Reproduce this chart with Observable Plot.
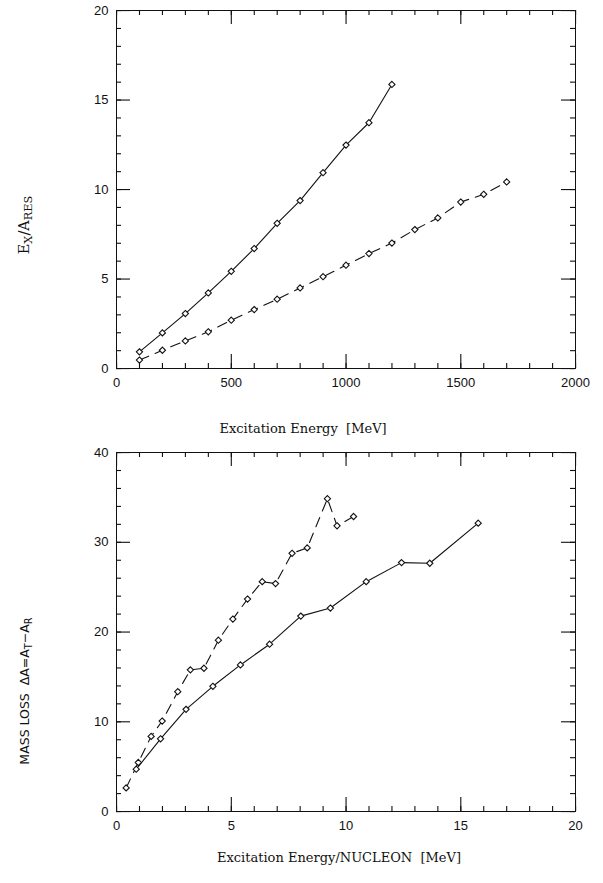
<!DOCTYPE html>
<html><head><meta charset="utf-8">
<script src="https://cdn.jsdelivr.net/npm/d3@7"></script>
<script src="https://cdn.jsdelivr.net/npm/@observablehq/plot@0.6"></script>
<style>
body{margin:0;background:#fff;}
#chart{width:603px;height:883px;}
svg{display:block;}
</style></head><body><div id="chart"></div>
<script>
// ---- Top panel data: E_X/A_RES vs Excitation Energy [MeV]
const topSolidEnergy = [100,200,300,400,500,600,700,800,900,1000,1100,1200];
const topSolidRatio  = [0.93,1.99,3.07,4.22,5.43,6.70,8.11,9.38,10.94,12.48,13.73,15.87];
const topDashedEnergy = [100,200,300,400,500,600,700,800,900,1000,1100,1200,1300,1400,1500,1600,1700];
const topDashedRatio  = [0.47,1.02,1.54,2.05,2.70,3.29,3.87,4.50,5.13,5.77,6.42,7.01,7.76,8.41,9.30,9.73,10.42];

// ---- Bottom panel data: mass loss vs excitation energy per nucleon [MeV]
const botSolidEn = [0.86,1.92,3.03,4.20,5.40,6.67,8.03,9.32,10.88,12.42,13.65,15.76];
const botSolidDA = [4.71,8.10,11.38,13.95,16.33,18.64,21.77,22.67,25.61,27.73,27.66,32.13];
const botDashedEn = [0.42,0.95,1.51,1.99,2.67,3.22,3.81,4.44,5.07,5.71,6.35,6.93,7.65,8.31,9.19,9.61,10.33];
const botDashedDA = [2.63,5.46,8.37,10.08,13.35,15.78,15.96,19.09,21.44,23.67,25.61,25.39,28.77,29.37,34.85,31.83,32.87];

// ---- Ticks / labels
const topXTicks = [0,500,1000,1500,2000];
const topYTicks = [0,5,10,15,20];
const topXMinor = d3.range(0, 2001, 100);
const topYMinor = d3.range(0, 21, 1);
const botXTicks = [0,5,10,15,20];
const botYTicks = [0,10,20,30,40];
const botXMinor = d3.range(0, 21, 1);
const botYMinor = d3.range(0, 41, 2);
const topXLabel = "Excitation Energy  [MeV]";
const botXLabel = "Excitation Energy/NUCLEON  [MeV]";

const INK = "#111";
const W = 603, ML = 116, MR = 28;

function panel({xd, yd, xMaj, yMaj, solid, dashed, height, marginTop, marginBottom, xLabel, labelDx, labelDy, spacing}) {
  return Plot.plot({
    width: W, height, marginLeft: ML, marginRight: MR, marginTop, marginBottom,
    style: {fontFamily: "Liberation Sans, Arial, sans-serif", background: "#fff", color: INK},
    x: {domain: xd}, y: {domain: yd},
    marks: [
      Plot.frame({stroke: INK}),
      Plot.axisX(xMaj, {anchor: "bottom", tickSize: 0, tickPadding: 9, fontSize: 13, tickFormat: d => String(d), label: null, fill: INK}),
      Plot.axisY(yMaj, {anchor: "left", tickSize: 0, tickPadding: 8, fontSize: 13, tickFormat: d => String(d), label: null, fill: INK}),
      Plot.line(solid, {x: "x", y: "y", stroke: INK, strokeWidth: 1.1}),
      Plot.line(dashed, {x: "x", y: "y", stroke: INK, strokeWidth: 1.1, strokeDasharray: "10,7"}),
      Plot.dot(solid, {x: "x", y: "y", symbol: "diamond2", r: 2.8, fill: "#fff", stroke: INK, strokeWidth: 1.1}),
      Plot.dot(dashed, {x: "x", y: "y", symbol: "diamond2", r: 2.8, fill: "#fff", stroke: INK, strokeWidth: 1.1}),
      Plot.text([xLabel], {text: d => d, frameAnchor: "bottom", dx: labelDx, dy: labelDy, fontSize: 13, fontFamily: "DejaVu Serif, serif", fill: INK})
    ]
  });
}

// inward frame ticks on all four sides, drawn as thin filled rectangles
function addFrameTicks(svgEl, xd, yd, height, marginTop, marginBottom, xMaj, xMin, yMaj, yMin) {
  let sx, sy;
  try { const s = svgEl.scale("x"); if (s && typeof s.apply === "function") sx = v => s.apply(v); } catch (e) {}
  try { const s = svgEl.scale("y"); if (s && typeof s.apply === "function") sy = v => s.apply(v); } catch (e) {}
  const fx = d3.scaleLinear(xd, [ML, W - MR]);
  const fy = d3.scaleLinear(yd, [height - marginBottom, marginTop]);
  const X = v => { const p = sx ? sx(v) : NaN; return Number.isFinite(p) ? p : fx(v); };
  const Y = v => { const p = sy ? sy(v) : NaN; return Number.isFinite(p) ? p : fy(v); };
  const xl = ML, xr = W - MR, yt = marginTop, yb = height - marginBottom;
  const g = d3.select(svgEl).append("g").attr("fill", INK).attr("stroke", "none");
  const box = (x, y, w, h) => g.append("rect").attr("x", x).attr("y", y).attr("width", w).attr("height", h).attr("fill", INK);
  for (const [vals, len] of [[xMin, 5], [xMaj, 14]]) {
    for (const v of vals) {
      const x = X(v);
      box(x, yb - len, 1.1, len);
      box(x, yt, 1.1, len);
    }
  }
  for (const [vals, len] of [[yMin, 5], [yMaj, 14]]) {
    for (const v of vals) {
      const y = Y(v);
      box(xl, y, len, 1.1);
      box(xr - len, y, len, 1.1);
    }
  }
}

const zipXY = (xs, ys) => xs.map((x, i) => ({x, y: ys[i]}));

const topCfg = {
  xd: [0, 2000], yd: [0, 20], xMaj: topXTicks, yMaj: topYTicks,
  solid: zipXY(topSolidEnergy, topSolidRatio), dashed: zipXY(topDashedEnergy, topDashedRatio),
  height: 445, marginTop: 10, marginBottom: 77, xLabel: topXLabel, labelDx: -43, labelDy: 64
};
const botCfg = {
  xd: [0, 20], yd: [0, 40], xMaj: botXTicks, yMaj: botYTicks,
  solid: zipXY(botSolidEn, botSolidDA), dashed: zipXY(botDashedEn, botDashedDA),
  height: 438, marginTop: 7, marginBottom: 72, xLabel: botXLabel, labelDx: -7, labelDy: 50
};
const topPanel = panel(topCfg);
const botPanel = panel(botCfg);
addFrameTicks(topPanel, topCfg.xd, topCfg.yd, topCfg.height, topCfg.marginTop, topCfg.marginBottom, topXTicks, topXMinor, topYTicks, topYMinor);
addFrameTicks(botPanel, botCfg.xd, botCfg.yd, botCfg.height, botCfg.marginTop, botCfg.marginBottom, botXTicks, botXMinor, botYTicks, botYMinor);

// rotated y-axis titles with subscripts
function yTitle(svgEl, cx, cy, parts, family, size) {
  const t = d3.select(svgEl).append("text")
    .attr("transform", `translate(${cx},${cy}) rotate(-90)`)
    .attr("text-anchor", "middle")
    .attr("font-family", family)
    .attr("font-size", size)
    .attr("fill", INK);
  for (const [s, sub] of parts) {
    t.append("tspan").text(s)
      .attr("font-size", sub ? size * 0.78 : size)
      .attr("baseline-shift", sub ? "-25%" : null);
  }
}
yTitle(topPanel, 29, 225, [["E", false], ["X", true], ["/A", false], ["RES", true]], "DejaVu Serif, serif", 14.5);
yTitle(botPanel, 29, 246, [["MASS LOSS  \u0394A=A", false], ["T", true], ["\u2212A", false], ["R", true]], "DejaVu Sans, sans-serif", 12.5);

document.getElementById("chart").append(topPanel, botPanel);
</script>
</body></html>
